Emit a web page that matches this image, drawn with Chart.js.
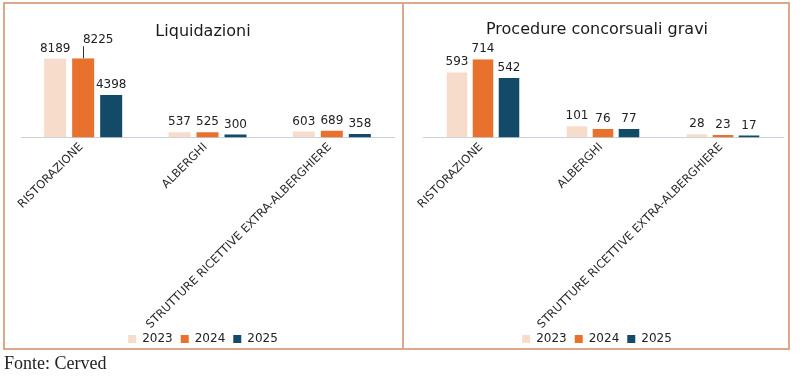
<!DOCTYPE html>
<html>
<head>
<meta charset="utf-8">
<script src="https://cdn.jsdelivr.net/npm/chart.js@4/dist/chart.umd.min.js"></script>
<style>
  html, body { margin: 0; padding: 0; background: #ffffff; }
  body { width: 800px; height: 378px; position: relative; overflow: hidden; }
  .panel { position: absolute; top: 2px; height: 348px; box-sizing: border-box; border: 2px solid #dba88b; }
  #p1 { left: 3px; width: 401px; }
  #p2 { left: 402px; width: 388px; }
  .cw { position: absolute; top: 4px; height: 351px; }
  #c1w { left: 5px; width: 396px; }
  #c2w { left: 404px; width: 384px; }
  #source { position: absolute; left: 4px; top: 353px; font-family: "Liberation Serif", "Times New Roman", serif; font-size: 18px; color: #222; }
</style>
</head>
<body>
<div class="panel" id="p1"></div>
<div class="panel" id="p2"></div>
<div class="cw" id="c1w"><canvas id="c1" width="396" height="351"></canvas></div>
<div class="cw" id="c2w"><canvas id="c2" width="384" height="351"></canvas></div>
<div id="source">Fonte: Cerved</div>
<script>
const categories = ["RISTORAZIONE", "ALBERGHI", "STRUTTURE RICETTIVE EXTRA-ALBERGHIERE"];
const years = ["2023", "2024", "2025"];
const liquidazioni2023 = [8189, 537, 603];
const liquidazioni2024 = [8225, 525, 689];
const liquidazioni2025 = [4398, 300, 358];
const procedure2023 = [593, 101, 28];
const procedure2024 = [714, 76, 23];
const procedure2025 = [542, 77, 17];
const colors = ["#f8dccb", "#e8712e", "#134a67"];

const FONT = "'DejaVu Sans', Verdana, sans-serif";

const valueLabels = {
  id: 'valueLabels',
  afterDatasetsDraw(chart, args, opts) {
    const ctx = chart.ctx;
    ctx.save();
    ctx.font = "12px " + FONT;
    ctx.fillStyle = "#222";
    ctx.textAlign = "center";
    ctx.textBaseline = "alphabetic";
    chart.data.datasets.forEach((ds, di) => {
      const meta = chart.getDatasetMeta(di);
      meta.data.forEach((bar, i) => {
        let x = bar.x, y = bar.y - 7;
        const lead = opts.leader;
        if (lead && lead.datasetIndex === di && lead.index === i) {
          x += lead.dx; y += lead.dy;
          ctx.save();
          ctx.strokeStyle = "#333";
          ctx.lineWidth = 1;
          ctx.beginPath();
          ctx.moveTo(Math.round(bar.x) + 0.5, y + 3);
          ctx.lineTo(Math.round(bar.x) + 0.5, bar.y);
          ctx.stroke();
          ctx.restore();
        }
        ctx.fillText(String(ds.data[i]), x, y);
      });
    });
    ctx.restore();
  }
};

function makeChart(id, title, series, opts) {
  const all = [].concat(...series);
  return new Chart(document.getElementById(id), {
    type: 'bar',
    data: {
      labels: categories,
      datasets: years.map((y, k) => ({
        label: y,
        data: series[k],
        backgroundColor: colors[k],
        borderWidth: 0,
        categoryPercentage: opts.catPct,
        barPercentage: opts.barPct
      }))
    },
    options: {
      responsive: false,
      animation: false,
      layout: { padding: opts.padding },
      plugins: {
        title: {
          display: true,
          text: title,
          color: "#1a1a1a",
          font: { family: FONT, size: 16, weight: 'normal' },
          padding: opts.titlePad
        },
        legend: {
          position: 'bottom',
          labels: {
            boxWidth: 8,
            boxHeight: 8,
            padding: 8,
            color: "#222",
            font: { family: FONT, size: 12 }
          }
        },
        tooltip: { enabled: false },
        valueLabels: { leader: opts.leader }
      },
      scales: {
        x: {
          grid: { display: false, drawTicks: false },
          border: { display: true, color: "#c8d1dd", width: 1 },
          ticks: {
            color: "#2a2a2a",
            font: { family: FONT, size: 11.5 },
            minRotation: 45,
            maxRotation: 45,
            autoSkip: false,
            padding: 3,
            labelOffset: -2
          },
          afterFit(scale) {
            scale.height = opts.xHeight;
            scale._computeLabelArea = function () { return undefined; };
          }
        },
        y: {
          display: true,
          min: 0,
          max: Math.max(...all),
          grid: { display: false, drawTicks: false },
          border: { display: false },
          ticks: { display: false },
          afterFit(scale) { scale.width = opts.yWidth; }
        }
      }
    },
    plugins: [valueLabels]
  });
}

makeChart('c1', 'Liquidazioni', [liquidazioni2023, liquidazioni2024, liquidazioni2025], {
  catPct: 0.676, barPct: 0.786,
  padding: { left: 7, right: 7, top: 0, bottom: 0 },
  yWidth: 9,
  xHeight: 187.6,
  titlePad: { top: 18, bottom: 17 },
  leader: { datasetIndex: 1, index: 0, dx: 15, dy: -8 }
});
makeChart('c2', 'Procedure concorsuali gravi', [procedure2023, procedure2024, procedure2025], {
  catPct: 0.65, barPct: 0.79,
  padding: { left: 7, right: 5, top: 0, bottom: 0 },
  yWidth: 12,
  xHeight: 187.6,
  titlePad: { top: 16, bottom: 20 },
  leader: null
});
</script>
</body>
</html>
